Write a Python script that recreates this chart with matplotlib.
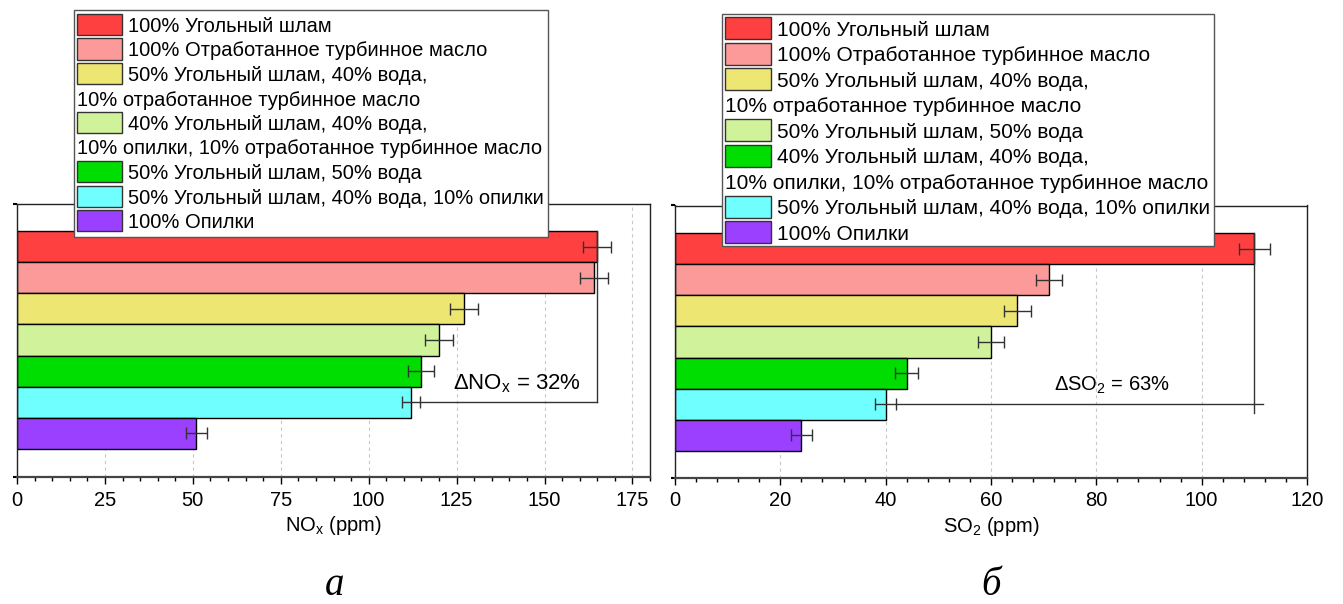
import matplotlib
matplotlib.use('Agg')
import matplotlib.pyplot as plt
from matplotlib.patches import Rectangle
from matplotlib.ticker import MultipleLocator

plt.rcParams['font.family'] = ['Liberation Sans', 'DejaVu Sans']
plt.rcParams['mathtext.fontset'] = 'custom'
plt.rcParams['mathtext.rm'] = 'Liberation Sans'
plt.rcParams['mathtext.it'] = 'Liberation Sans:italic'

# --- data ---
colors = ['#ff4040', '#fb9a99', '#eee673', '#d0f29a', '#00dd00', '#70ffff', '#9b40ff']

nox = [165, 164, 127, 120, 115, 112, 51]
nox_err = [4, 4, 4, 4, 3.7, 2.5, 3]
so2 = [110, 71, 65, 60, 44, 40, 24]
so2_err = [3, 2.5, 2.5, 2.5, 2.2, 2, 2]

labels_nox = ['100% Угольный шлам',
              '100% Отработанное турбинное масло',
              '50% Угольный шлам, 40% вода,\n10% отработанное турбинное масло',
              '40% Угольный шлам, 40% вода,\n10% опилки, 10% отработанное турбинное масло',
              '50% Угольный шлам, 50% вода',
              '50% Угольный шлам, 40% вода, 10% опилки',
              '100% Опилки']
labels_so2 = ['100% Угольный шлам',
              '100% Отработанное турбинное масло',
              '50% Угольный шлам, 40% вода,\n10% отработанное турбинное масло',
              '50% Угольный шлам, 50% вода',
              '40% Угольный шлам, 40% вода,\n10% опилки, 10% отработанное турбинное масло',
              '50% Угольный шлам, 40% вода, 10% опилки',
              '100% Опилки']

W, H = 1343, 604
fig = plt.figure(figsize=(W / 100, H / 100), dpi=100)


def px_box(x0, y0, x1, y1):
    # pixel box (top-left origin) -> figure fraction rect
    return [x0 / W, 1 - y1 / H, (x1 - x0) / W, (y1 - y0) / H]


def draw_panel(ax, vals, errs, xmax, major, ylim):
    pos = list(range(len(vals)))
    ax.barh(pos, vals, height=1.0, color=colors, edgecolor='black', linewidth=1, zorder=2)
    ax.errorbar(vals, pos, xerr=errs, fmt='none', ecolor='#333333', elinewidth=1,
                capsize=4, capthick=1, zorder=3)
    ax.set_xlim(0, xmax)
    ax.set_ylim(*ylim)
    ax.xaxis.set_major_locator(MultipleLocator(major))
    ax.xaxis.set_minor_locator(MultipleLocator(major / 5))
    ax.grid(axis='x', which='major', color='#c8c8c8', linestyle=(0, (3, 3)), linewidth=0.8)
    ax.set_axisbelow(True)
    ax.set_yticks(ylim)
    ax.set_yticklabels([])
    ax.tick_params(axis='y', length=3, width=1.5)
    ax.tick_params(axis='x', which='major', direction='out', length=5, width=1, labelsize=14.5, pad=5)
    ax.tick_params(axis='x', which='minor', direction='out', length=3, width=1)
    for s in ax.spines.values():
        s.set_linewidth(1)
        s.set_color('#222222')
    ax.spines['bottom'].set_linewidth(1.6)
    ax.spines['bottom'].set_color('#444444')


def draw_legend(labels, box, row0, pitch, hx0, hx1, hh, tx, fs):
    x0, y0, x1, y1 = box
    fig.add_artist(Rectangle((x0 / W, 1 - y1 / H), (x1 - x0) / W, (y1 - y0) / H,
                             transform=fig.transFigure, facecolor='white',
                             edgecolor='#555555', lw=1, zorder=5))
    row = 0
    for label, color in zip(labels, colors):
        lines = label.split('\n')
        yc = row0 + row * pitch
        fig.add_artist(Rectangle((hx0 / W, 1 - (yc + hh / 2) / H), (hx1 - hx0) / W, hh / H,
                                 transform=fig.transFigure, facecolor=color,
                                 edgecolor='#333333', lw=1, zorder=6))
        fig.text(tx / W, 1 - yc / H, lines[0], fontsize=fs, va='center_baseline', zorder=7)
        for extra in lines[1:]:
            row += 1
            yc = row0 + row * pitch
            fig.text(hx0 / W, 1 - yc / H, extra, fontsize=fs, va='center_baseline', zorder=7)
        row += 1


# --- NOx panel ---
ax1 = fig.add_axes(px_box(17, 204, 650, 477))
draw_panel(ax1, nox, nox_err, 180, 25, (7.4, -1.37))
ax1.plot([nox[0], nox[0]], [-0.5, 5], color='#333333', lw=1, zorder=4)
ax1.plot([nox[5] + nox_err[5], nox[0]], [5, 5], color='#333333', lw=1, zorder=4)
ax1.text(142.3, 4.41, r'ΔNO$_{\mathrm{x}}$ = 32%', ha='center', va='center', fontsize=16)
ax1.set_xlabel(r'NO$_{\mathrm{x}}$ (ppm)', fontsize=14.5, labelpad=3)

# --- SO2 panel ---
ax2 = fig.add_axes(px_box(675, 205.5, 1307, 477.5))
draw_panel(ax2, so2, so2_err, 120, 20, (7.36, -1.39))
ax2.plot([so2[0], so2[0]], [-0.5, 5.3], color='#333333', lw=1, zorder=4)
ax2.plot([so2[5] + so2_err[5], so2[0] + 1.7], [5, 5], color='#333333', lw=1, zorder=4)
ax2.text(83.0, 4.38, r'ΔSO$_{\mathrm{2}}$ = 63%', ha='center', va='center', fontsize=14.5)
ax2.set_xlabel(r'SO$_{\mathrm{2}}$ (ppm)', fontsize=14.5, labelpad=3)

# --- legends ---
draw_legend(labels_nox, (74, 10, 548, 237), 24.5, 24.5, 77, 121.5, 21, 127.5, 14.5)
draw_legend(labels_so2, (722, 14, 1214, 246.5), 28.3, 25.5, 725, 771, 22, 777, 15)

# --- panel letters ---
fig.text(335 / W, 1 - 595 / H, 'а', fontsize=28, ha='center', va='baseline',
         family='Liberation Serif', style='italic')
fig.text(991 / W, 1 - 595 / H, 'б', fontsize=28, ha='center', va='baseline',
         family='Liberation Serif', style='italic')

fig.savefig('out.png', dpi=100)
